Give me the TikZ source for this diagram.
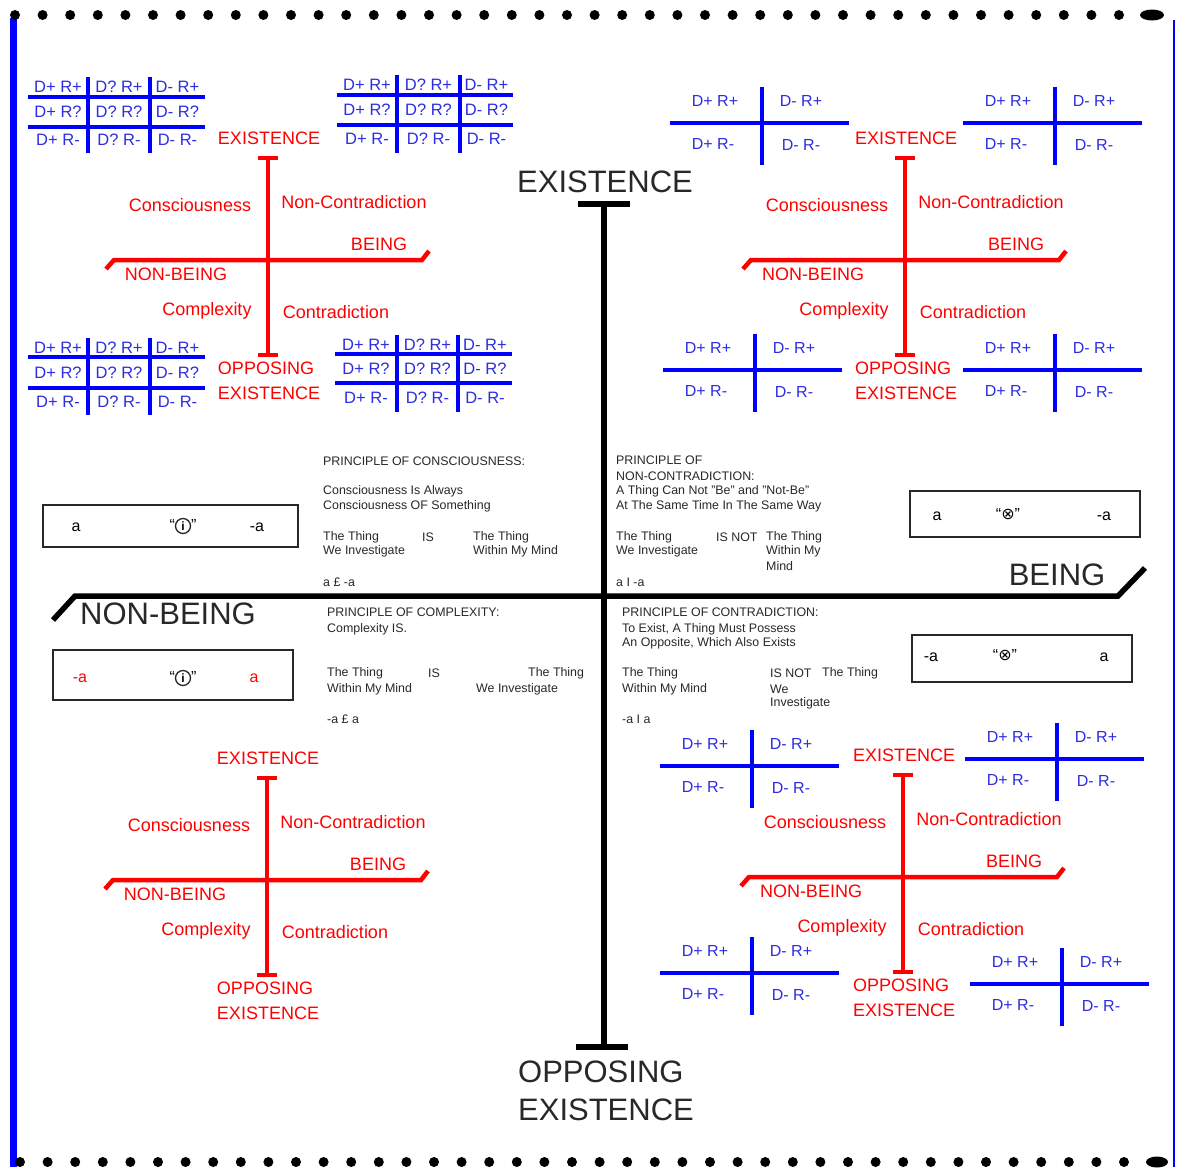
\documentclass[tikz,border=0pt]{standalone}
\usepackage{fontspec}
\setmainfont{Liberation Sans}
\newfontfamily\symfont{DejaVu Sans}
\definecolor{gridtext}{RGB}{45,45,225}
\definecolor{bodytext}{RGB}{40,40,40}

% 3x3 table of D/R combinations: name, left, v1, v2, right, top, h1, h2, bottom
\newcommand{\ThreeGrid}[9]{%
  \draw[blueline] (#2,#7) -- (#5,#7);
  \draw[blueline] (#2,#8) -- (#5,#8);
  \draw[blueline] (#3,#6) -- (#3,#9);
  \draw[blueline] (#4,#6) -- (#4,#9);
  \node[gridlbl] (#1-11) at ({(#2+#3)/2},{(#6+#7)/2}) {D+ R+};
  \node[gridlbl] (#1-12) at ({(#3+#4)/2},{(#6+#7)/2}) {D? R+};
  \node[gridlbl] (#1-13) at ({(#4+#5)/2},{(#6+#7)/2}) {D- R+};
  \node[gridlbl] (#1-21) at ({(#2+#3)/2},{(#7+#8)/2}) {D+ R?};
  \node[gridlbl] (#1-22) at ({(#3+#4)/2},{(#7+#8)/2}) {D? R?};
  \node[gridlbl] (#1-23) at ({(#4+#5)/2},{(#7+#8)/2}) {D- R?};
  \node[gridlbl] (#1-31) at ({(#2+#3)/2},{(#8+#9)/2}) {D+ R-};
  \node[gridlbl] (#1-32) at ({(#3+#4)/2},{(#8+#9)/2}) {D? R-};
  \node[gridlbl] (#1-33) at ({(#4+#5)/2},{(#8+#9)/2}) {D- R-};
}

% 2x2 cross of D/R combinations: name, vertical x, horizontal y
\newcommand{\TwoGrid}[3]{%
  \draw[blueline] ({#2-92},#3) -- ({#2+87},#3);
  \draw[blueline] (#2,{#3-36}) -- (#2,{#3+42});
  \node[twolbl] (#1-11) at ({#2-47},{#3-22}) {D+ R+};
  \node[twolbl] (#1-12) at ({#2+39},{#3-22}) {D- R+};
  \node[twolbl] (#1-21) at ({#2-49},{#3+21}) {D+ R-};
  \node[twolbl] (#1-22) at ({#2+39},{#3+22}) {D- R-};
}

\begin{document}
\begin{tikzpicture}[x=1pt,y=-1pt,
  mainline/.style={line width=5.5pt, black},
  redline/.style={line width=4.5pt, red},
  blueline/.style={line width=4pt, blue},
  redlbl/.style={text=red, font=\fontsize{18}{25}\selectfont, inner sep=0pt},
  gridlbl/.style={text=gridtext, font=\fontsize{16.5}{18}\selectfont, inner sep=0pt},
  twolbl/.style={text=gridtext, font=\fontsize{16}{18}\selectfont, inner sep=0pt},
  biglbl/.style={text=bodytext, font=\fontsize{31}{38}\selectfont, inner sep=0pt},
  small/.style={text=bodytext, font=\fontsize{12.4}{14}\selectfont, anchor=west, inner sep=0pt},
  boxst/.style={draw=bodytext, line width=1.6pt, inner sep=0pt},
  boxtxt/.style={font=\fontsize{16}{18}\selectfont, inner sep=0pt},
  circsym/.style={circle, draw=bodytext, line width=1.3pt, minimum size=15pt, inner sep=0pt,
    font=\bfseries\fontsize{12}{12}\selectfont},
  redcross/.pic={
    \draw[redline] (0,-102) -- (0,95);
    \draw[redline] (-10,-102) -- (10,-102);
    \draw[redline] (-10,95) -- (10,95);
    \draw[redline] (-162,9) -- (-154,0) -- (154,0) -- (161,-9);
    \node[redlbl] (-ex) at (1,-122) {EXISTENCE};
    \node[redlbl] (-cons) at (-78,-55) {Consciousness};
    \node[redlbl] (-nonc) at (86,-58) {Non-Contradiction};
    \node[redlbl] (-being) at (111,-16) {BEING};
    \node[redlbl] (-nonb) at (-92,14) {NON-BEING};
    \node[redlbl] (-cplx) at (-61,51) {Complexity};
    \node[redlbl] (-contr) at (68,52) {Contradiction};
    \node[redlbl, align=left] (-opp) at (1,121) {OPPOSING\\EXISTENCE};
  }]
\useasboundingbox (0,0) rectangle (1177,1167);
\fill[white] (0,0) rectangle (1177,1167);

% frame: blue sides, dotted top and bottom
\draw[blue, line width=7pt] (13,18) -- (13,1167);
\draw[blue, line width=2.5pt] (1174,20) -- (1174,1167);
\foreach \i in {0,...,40} {
  \fill (15+27.6*\i,15) circle (5);
  \fill (20+27.6*\i,1162) circle (5);
}
\fill (1152,15) ellipse (12 and 5.5);
\fill (1157,1162) ellipse (11 and 5.5);

% main axes
\coordinate (vtop) at (604,204);
\coordinate (vbot) at (604,1047);
\coordinate (hl) at (75,596);
\coordinate (hr) at (1118,596);
\draw[mainline] (vtop) -- (vbot);
\draw[mainline] (578,204) -- (630,204);
\draw[mainline] (576,1047) -- (628,1047);
\draw[mainline] (53,620) -- (hl) -- (hr) -- (1145,568);
\node[biglbl] (exist) at (605,182) {EXISTENCE};
\node[biglbl, align=left] (oppose) at (606,1091) {OPPOSING\\EXISTENCE};
\node[biglbl] (nonbeing) at (168,614) {NON-BEING};
\node[biglbl] (being) at (1057,575) {BEING};

% four small crosses
\pic (tl) at (268,260) {redcross};
\pic (tr) at (905,260) {redcross};
\pic (bl) at (267,880) {redcross};
\pic (br) at (903,877) {redcross};

% tables around the upper left cross
\ThreeGrid{ga}{28}{88}{150}{205}{77}{97}{127}{153}
\ThreeGrid{gb}{337}{397}{460}{513}{75}{95}{125}{153}
\ThreeGrid{gc}{28}{88}{150}{205}{338}{357}{388}{415}
\ThreeGrid{gd}{335}{397}{458}{512}{335}{354}{383}{412}

% crosses around the right hand crosses
\TwoGrid{qa}{762}{123}
\TwoGrid{qb}{1055}{123}
\TwoGrid{qc}{755}{370}
\TwoGrid{qd}{1055}{370}
\TwoGrid{qe}{752}{766}
\TwoGrid{qf}{1057}{759}
\TwoGrid{qg}{752}{973}
\TwoGrid{qh}{1062}{984}

% principle of consciousness
\node[small] (pc1) at (323,461) {PRINCIPLE OF CONSCIOUSNESS:};
\node[small] (pc2) at (323,491) {Consciousness Is Always};
\node[small] (pc3) at (323,506) {Consciousness OF Something};
\node[small] (pc4) at (323,537) {The Thing};
\node[small] (pc5) at (422,537) {IS};
\node[small] (pc6) at (473,537) {The Thing};
\node[small] (pc7) at (323,551) {We Investigate};
\node[small] (pc8) at (473,551) {Within My Mind};
\node[small] (pc9) at (323,582) {a £ -a};

% principle of non-contradiction
\node[small] (pn1) at (616,460) {PRINCIPLE OF};
\node[small] (pn2) at (616,476) {NON-CONTRADICTION:};
\node[small] (pn3) at (616,491) {A Thing Can Not "Be" and "Not-Be"};
\node[small] (pn4) at (616,506) {At The Same Time In The Same Way};
\node[small] (pn5) at (616,537) {The Thing};
\node[small] (pn6) at (716,537) {IS NOT};
\node[small] (pn7) at (766,537) {The Thing};
\node[small] (pn8) at (616,551) {We Investigate};
\node[small] (pn9) at (766,551) {Within My};
\node[small] (pn10) at (766,566) {Mind};
\node[small] (pn11) at (616,582) {a I -a};

% principle of complexity
\node[small] (px1) at (327,612) {PRINCIPLE OF COMPLEXITY:};
\node[small] (px2) at (327,629) {Complexity IS.};
\node[small] (px3) at (327,673) {The Thing};
\node[small] (px4) at (428,673) {IS};
\node[small] (px5) at (528,673) {The Thing};
\node[small] (px6) at (327,689) {Within My Mind};
\node[small] (px7) at (476,689) {We Investigate};
\node[small] (px8) at (327,719) {-a £ a};

% principle of contradiction
\node[small] (pt1) at (622,612) {PRINCIPLE OF CONTRADICTION:};
\node[small] (pt2) at (622,629) {To Exist, A Thing Must Possess};
\node[small] (pt3) at (622,643) {An Opposite, Which Also Exists};
\node[small] (pt4) at (622,673) {The Thing};
\node[small] (pt5) at (770,673) {IS NOT};
\node[small] (pt6) at (822,673) {The Thing};
\node[small] (pt7) at (622,689) {Within My Mind};
\node[small] (pt8) at (770,689) {We};
\node[small] (pt9) at (770,703) {Investigate};
\node[small] (pt10) at (622,719) {-a I a};

% relation boxes
\node[boxst, minimum width=255pt, minimum height=42pt] (box1) at (170.5,526) {};
\node[boxtxt] (b1a) at (76,527) {a};
\node[boxtxt] (b1q) at (183,525) {``\hspace{16pt}''};
\node[circsym] (b1s) at (183,526) {i};
\node[boxtxt] (b1b) at (257,527) {-a};

\node[boxst, minimum width=240pt, minimum height=50pt] (box2) at (173,675) {};
\node[boxtxt, text=red] (b2a) at (80,678) {-a};
\node[boxtxt] (b2q) at (183,677) {``\hspace{16pt}''};
\node[circsym] (b2s) at (183,678) {i};
\node[boxtxt, text=red] (b2b) at (254,678) {a};

\node[boxst, minimum width=230pt, minimum height=46pt] (box3) at (1025,514) {};
\node[boxtxt] (b3a) at (937,516) {a};
\node[boxtxt] (b3s) at (1008,514) {``{\symfont ⊗}''};
\node[boxtxt] (b3b) at (1104,516) {-a};

\node[boxst, minimum width=220pt, minimum height=47pt] (box4) at (1022,658.5) {};
\node[boxtxt] (b4a) at (931,657) {-a};
\node[boxtxt] (b4s) at (1005,655) {``{\symfont ⊗}''};
\node[boxtxt] (b4b) at (1104,657) {a};
\end{tikzpicture}
\end{document}
